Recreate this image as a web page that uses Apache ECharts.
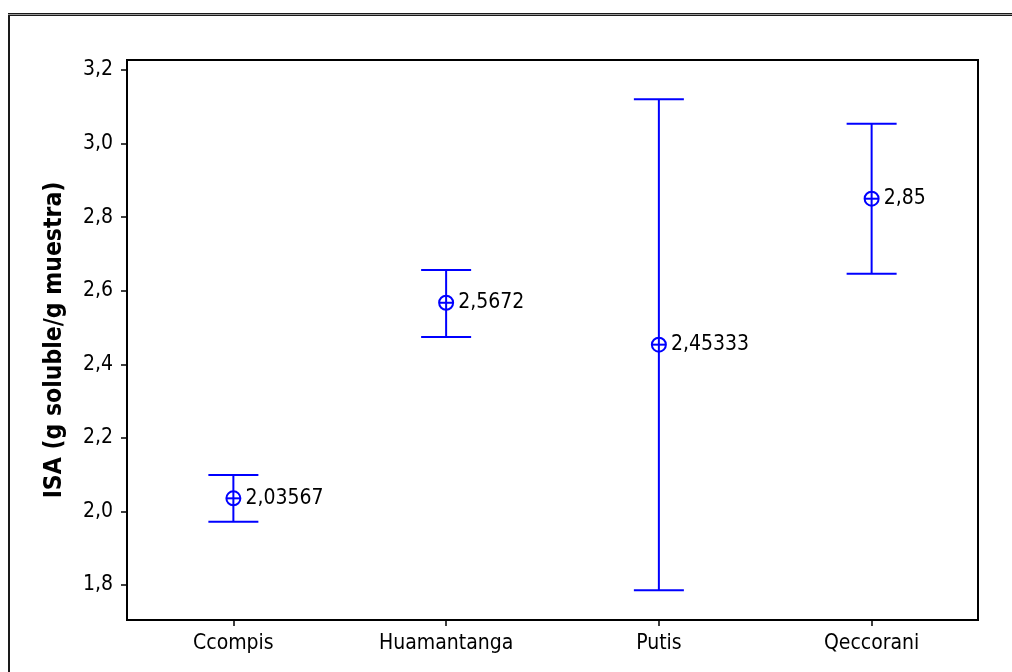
<!DOCTYPE html>
<html>
<head>
<meta charset="utf-8">
<script src="https://cdn.jsdelivr.net/npm/echarts@6/dist/echarts.min.js"></script>
<style>
  html, body { margin: 0; padding: 0; background: #fff; }
  #chart { width: 1012px; height: 672px; }
</style>
</head>
<body>
<div id="chart"></div>
<script>
// Interval plot: mean with confidence interval per location
const categories = ['Ccompis', 'Huamantanga', 'Putis', 'Qeccorani'];
const means = [2.03567, 2.5672, 2.45333, 2.85];
const lowerBounds = [1.972, 2.474, 1.786, 2.646];
const upperBounds = [2.099, 2.656, 3.120, 3.054];
const yTicks = [1.8, 2.0, 2.2, 2.4, 2.6, 2.8, 3.0, 3.2];
const yTitle = 'ISA (g soluble/g muestra)';

const FONT = '"DejaVu Sans Condensed", "DejaVu Sans", sans-serif';
const BLUE = '#0000ff';
const fmt = v => String(v).replace('.', ',');

const seriesData = categories.map((c, i) => [i, means[i], lowerBounds[i], upperBounds[i]]);

function renderInterval(params, api) {
  const idx = api.value(0);
  const mean = api.value(1);
  const top = api.coord([idx, api.value(3)]);
  const bot = api.coord([idx, api.value(2)]);
  const mid = api.coord([idx, mean]);
  const capHalf = 25;
  const r = 7;
  const lineStyle = { stroke: BLUE, lineWidth: 2, fill: null };
  return {
    type: 'group',
    children: [
      { type: 'line', shape: { x1: top[0], y1: top[1], x2: bot[0], y2: bot[1] }, style: lineStyle },
      { type: 'line', shape: { x1: top[0] - capHalf, y1: top[1], x2: top[0] + capHalf, y2: top[1] }, style: lineStyle },
      { type: 'line', shape: { x1: bot[0] - capHalf, y1: bot[1], x2: bot[0] + capHalf, y2: bot[1] }, style: lineStyle },
      { type: 'circle', shape: { cx: mid[0], cy: mid[1], r: r }, style: { stroke: BLUE, lineWidth: 2, fill: 'rgba(0,0,0,0)' } },
      { type: 'line', shape: { x1: mid[0] - r, y1: mid[1], x2: mid[0] + r, y2: mid[1] }, style: lineStyle },
      { type: 'text', x: mid[0] + 12, y: mid[1],
        style: { text: fmt(mean), fill: '#000', font: '21px ' + FONT, verticalAlign: 'middle', align: 'left' } }
    ]
  };
}

const chart = echarts.init(document.getElementById('chart'), null, { renderer: 'canvas' });
chart.setOption({
  animation: false,
  backgroundColor: '#fff',
  textStyle: { fontFamily: FONT },
  grid: { left: 127, top: 60, right: 34, bottom: 52, show: true, borderColor: '#000', borderWidth: 2, backgroundColor: 'transparent' },
  xAxis: {
    type: 'category',
    data: categories,
    boundaryGap: true,
    axisLine: { show: true, lineStyle: { color: '#000', width: 2 } },
    axisTick: { show: true, alignWithLabel: true, length: 6, lineStyle: { color: '#000', width: 1.5 } },
    axisLabel: { color: '#000', fontSize: 21, fontFamily: FONT, margin: 13 },
    splitLine: { show: false }
  },
  yAxis: {
    type: 'value',
    min: 1.705,
    max: 3.227,
    name: yTitle,
    nameLocation: 'middle',
    nameGap: 60,
    nameRotate: 90,
    nameTextStyle: { color: '#000', fontSize: 24.5, fontWeight: 'bold', fontFamily: FONT },
    axisLine: { show: true, lineStyle: { color: '#000', width: 2 } },
    axisTick: { show: true, length: 6, lineStyle: { color: '#000', width: 1.5 }, customValues: yTicks },
    axisLabel: { color: '#000', fontSize: 21, fontFamily: FONT, margin: 14, customValues: yTicks, formatter: v => Number(v).toFixed(1).replace('.', ',') },
    splitLine: { show: false }
  },
  graphic: [
    { type: 'rect', shape: { x: 8, y: 13, width: 1004, height: 3 }, style: { fill: '#1a1a1a' }, z: 10 },
    { type: 'line', shape: { x1: 8, y1: 14.5, x2: 1012, y2: 14.5 }, style: { stroke: '#999', lineWidth: 1 }, z: 11 },
    { type: 'rect', shape: { x: 8, y: 13, width: 2, height: 659 }, style: { fill: '#1a1a1a' }, z: 10 }
  ],
  series: [{
    type: 'custom',
    renderItem: renderInterval,
    data: seriesData,
    encode: { x: 0, y: [1, 2, 3] },
    clip: false
  }]
});
</script>
</body>
</html>
